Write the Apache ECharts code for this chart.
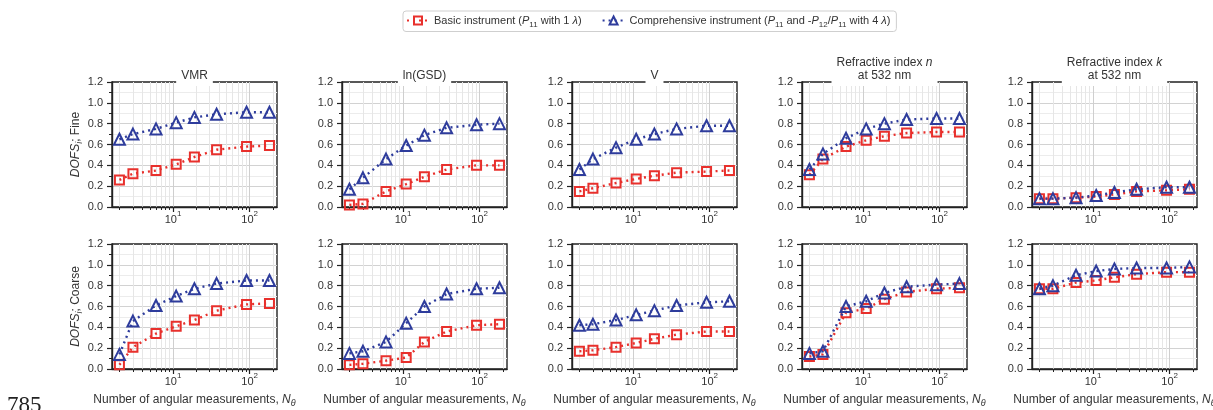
<!DOCTYPE html>
<html>
<head>
<meta charset="utf-8">
<script src="https://cdn.jsdelivr.net/npm/echarts@6/dist/echarts.min.js"></script>
<style>
  html, body { margin: 0; padding: 0; background: #fff; }
  #chart { width: 1213px; height: 410px; }
</style>
</head>
<body>
<div id="chart"></div>
<script>
// Number of angular measurements (x positions of every point)
const N_THETA = [2, 3, 6, 11, 19, 37, 91, 181];

// Log-axis tick positions
const MAJOR_X = [10, 100];
const MINOR_X = [2, 3, 4, 5, 6, 7, 8, 9, 20, 30, 40, 50, 60, 70, 80, 90, 200];

// DOFS, fine mode — basic / comprehensive instrument
const vmrFineBasic  = [0.26, 0.32, 0.35, 0.41, 0.48, 0.55, 0.58, 0.59];
const vmrFineComp   = [0.65, 0.70, 0.75, 0.81, 0.86, 0.89, 0.91, 0.91];
const gsdFineBasic  = [0.02, 0.03, 0.15, 0.22, 0.29, 0.36, 0.40, 0.40];
const gsdFineComp   = [0.17, 0.28, 0.46, 0.59, 0.69, 0.76, 0.79, 0.80];
const vFineBasic    = [0.15, 0.18, 0.23, 0.27, 0.30, 0.33, 0.34, 0.35];
const vFineComp     = [0.36, 0.46, 0.57, 0.65, 0.70, 0.75, 0.78, 0.78];
const nFineBasic    = [0.31, 0.46, 0.58, 0.64, 0.68, 0.71, 0.72, 0.72];
const nFineComp     = [0.36, 0.51, 0.66, 0.75, 0.80, 0.84, 0.85, 0.85];
const kFineBasic    = [0.08, 0.08, 0.09, 0.10, 0.12, 0.15, 0.16, 0.17];
const kFineComp     = [0.08, 0.08, 0.09, 0.11, 0.14, 0.17, 0.19, 0.19];

// DOFS, coarse mode — basic / comprehensive instrument
const vmrCoarseBasic = [0.04, 0.21, 0.34, 0.41, 0.47, 0.56, 0.62, 0.63];
const vmrCoarseComp  = [0.14, 0.46, 0.61, 0.70, 0.77, 0.82, 0.85, 0.85];
const gsdCoarseBasic = [0.04, 0.05, 0.08, 0.11, 0.26, 0.36, 0.42, 0.43];
const gsdCoarseComp  = [0.15, 0.17, 0.26, 0.44, 0.60, 0.72, 0.77, 0.78];
const vCoarseBasic   = [0.17, 0.18, 0.21, 0.25, 0.29, 0.33, 0.36, 0.36];
const vCoarseComp    = [0.42, 0.43, 0.47, 0.52, 0.56, 0.61, 0.64, 0.65];
const nCoarseBasic   = [0.12, 0.14, 0.54, 0.58, 0.67, 0.74, 0.77, 0.78];
const nCoarseComp    = [0.15, 0.17, 0.60, 0.65, 0.73, 0.79, 0.81, 0.82];
const kCoarseBasic   = [0.77, 0.77, 0.83, 0.85, 0.88, 0.91, 0.93, 0.93];
const kCoarseComp    = [0.77, 0.80, 0.90, 0.94, 0.96, 0.97, 0.97, 0.98];

// Panel headings (rich-text markup)
const PANEL_TITLES = [
  '{t|VMR}',
  '{t|ln(GSD)}',
  '{t|V}',
  '{t|Refractive index }{ti|n}\n{t|at 532 nm}',
  '{t|Refractive index }{ti|k}\n{t|at 532 nm}'
];
const ROW_NAMES = ['Fine', 'Coarse'];

const BASIC_NAME = 'Basic instrument (P11 with 1 λ)';
const COMP_NAME = 'Comprehensive instrument (P11 and -P12/P11 with 4 λ)';

const FINE_ROW = [
  [vmrFineBasic, vmrFineComp], [gsdFineBasic, gsdFineComp], [vFineBasic, vFineComp],
  [nFineBasic, nFineComp], [kFineBasic, kFineComp]
];
const COARSE_ROW = [
  [vmrCoarseBasic, vmrCoarseComp], [gsdCoarseBasic, gsdCoarseComp], [vCoarseBasic, vCoarseComp],
  [nCoarseBasic, nCoarseComp], [kCoarseBasic, kCoarseComp]
];

const RED = '#e8302c';
const BLUE = '#2e3c9c';
const FONT = 'Liberation Sans';
const TEXT = '#333';

const GRID_LEFT = [112, 342, 572, 802, 1032];
const GRID_TOP = [82, 244];
const GRID_W = 165, GRID_H = 125;

function richSet(size) {
  return {
    n: { fontFamily: FONT, fontSize: size, color: TEXT, lineHeight: 16 },
    i: { fontFamily: FONT, fontSize: size, color: TEXT, fontStyle: 'italic', lineHeight: 16 },
    s: { fontFamily: FONT, fontSize: size - 3, color: TEXT, lineHeight: 10, verticalAlign: 'bottom' },
    si: { fontFamily: FONT, fontSize: size - 3, color: TEXT, fontStyle: 'italic', lineHeight: 10, verticalAlign: 'bottom' }
  };
}

const grids = [], xAxes = [], yAxes = [], series = [], graphics = [];

[FINE_ROW, COARSE_ROW].forEach((row, r) => {
  row.forEach((pair, c) => {
    const g = grids.length;
    grids.push({
      left: GRID_LEFT[c], top: GRID_TOP[r], width: GRID_W, height: GRID_H,
      outerBoundsMode: 'none', containLabel: false,
      show: true, borderColor: '#222', borderWidth: 1.4, backgroundColor: 'transparent'
    });

    // major log axis: decade ticks, labels and grid lines
    xAxes.push({
      type: 'log', gridIndex: g, position: 'bottom', min: 1.6, max: 227,
      axisLine: { show: true, lineStyle: { color: '#222', width: 1.4 } },
      axisTick: { show: true, customValues: MAJOR_X, length: 5, lineStyle: { color: '#222', width: 1.2 } },
      axisLabel: {
        show: true, customValues: MAJOR_X, margin: 3,
        formatter: v => '{b|10}{p|' + Math.round(Math.log10(v)) + '}',
        rich: {
          b: { fontFamily: FONT, fontSize: 11, color: TEXT, lineHeight: 15, verticalAlign: 'bottom' },
          p: { fontFamily: FONT, fontSize: 8, color: TEXT, lineHeight: 10, verticalAlign: 'top' }
        }
      },
      splitLine: { show: true, lineStyle: { color: '#cfcfcf', width: 1 } },
      name: r === 1 ? '{n|Number of angular measurements, }{i|N}{si|θ}' : '',
      nameLocation: 'middle', nameGap: 23,
      nameTextStyle: { rich: richSet(12) }
    });
    // minor log axis: ticks and light grid lines at 2..9 of every decade
    xAxes.push({
      type: 'log', gridIndex: g, position: 'bottom', min: 1.6, max: 227,
      axisLine: { show: false },
      axisTick: { show: true, customValues: MINOR_X, length: 3, lineStyle: { color: '#222', width: 1 } },
      axisLabel: { show: false },
      splitLine: { show: true, lineStyle: { color: '#e6e6e6', width: 1 } }
    });

    yAxes.push({
      type: 'value', gridIndex: g, min: 0, max: 1.2, interval: 0.2,
      axisLine: { show: true, lineStyle: { color: '#222', width: 1.4 } },
      axisTick: { show: true, length: 5, lineStyle: { color: '#222', width: 1.2 } },
      minorTick: { show: true, splitNumber: 2, length: 3, lineStyle: { color: '#222', width: 1 } },
      axisLabel: { fontFamily: FONT, fontSize: 11, color: TEXT, margin: 9, formatter: v => v.toFixed(1) },
      splitLine: { show: true, showMinLine: false, showMaxLine: false, lineStyle: { color: '#d2d2d2', width: 1 } },
      minorSplitLine: { show: true, lineStyle: { color: '#ececec', width: 1 } },
      name: c === 0 ? '{i|DOFS}{si|i}{n|; ' + ROW_NAMES[r] + '}' : '',
      nameLocation: 'middle', nameRotate: 90, nameGap: 26,
      nameTextStyle: { rich: richSet(12) }
    });

    const xi = g * 2;
    series.push({
      name: BASIC_NAME, type: 'line', xAxisIndex: xi, yAxisIndex: g,
      data: N_THETA.map((n, k) => [n, pair[0][k]]),
      symbol: 'rect', symbolSize: 9, showAllSymbol: true,
      lineStyle: { color: RED, width: 2.4, type: [2, 4] },
      itemStyle: { color: 'rgba(255,255,255,0)', borderColor: RED, borderWidth: 2 },
      z: 3
    });
    series.push({
      name: COMP_NAME, type: 'line', xAxisIndex: xi, yAxisIndex: g,
      data: N_THETA.map((n, k) => [n, pair[1][k]]),
      symbol: 'triangle', symbolSize: 11, showAllSymbol: true,
      lineStyle: { color: BLUE, width: 2.4, type: [2, 4] },
      itemStyle: { color: 'rgba(255,255,255,0)', borderColor: BLUE, borderWidth: 2 },
      z: 4
    });

    if (r === 0) {
      graphics.push({
        type: 'text', z: 100,
        x: GRID_LEFT[c] + GRID_W / 2, y: 86,
        style: {
          text: PANEL_TITLES[c], align: 'center', verticalAlign: 'bottom',
          backgroundColor: '#fff', padding: [1, 5, 4, 5],
          rich: {
            t: { fontFamily: FONT, fontSize: 12, fill: TEXT, lineHeight: 13 },
            ti: { fontFamily: FONT, fontSize: 12, fill: TEXT, fontStyle: 'italic', lineHeight: 13 }
          }
        }
      });
    }
  });
});

// page line number in the lower-left margin
graphics.push({
  type: 'text', z: 100, x: 7, y: 394,
  style: { text: '785', fontFamily: 'Liberation Serif', fontSize: 23, fill: '#222' }
});

const LEGEND_TEXT = {};
LEGEND_TEXT[BASIC_NAME] = '{n|Basic instrument (}{i|P}{s|11}{n| with 1 }{i|λ}{n|)}';
LEGEND_TEXT[COMP_NAME] = '{n|Comprehensive instrument (}{i|P}{s|11}{n| and -}{i|P}{s|12}{n|/}{i|P}{s|11}{n| with 4 }{i|λ}{n|)}';

const chart = echarts.init(document.getElementById('chart'), null, { renderer: 'canvas' });
chart.setOption({
  animation: false,
  backgroundColor: '#fff',
  legend: {
    data: [BASIC_NAME, COMP_NAME],
    left: 403, top: 11,
    padding: [4, 6, 3, 3],
    itemGap: 20, itemWidth: 22, itemHeight: 10,
    borderColor: '#cfcfcf', borderWidth: 1, borderRadius: 3,
    formatter: name => LEGEND_TEXT[name],
    textStyle: { rich: richSet(11), padding: [0, 0, 0, 0] }
  },
  grid: grids,
  xAxis: xAxes,
  yAxis: yAxes,
  series: series,
  graphic: graphics
});
</script>
</body>
</html>
